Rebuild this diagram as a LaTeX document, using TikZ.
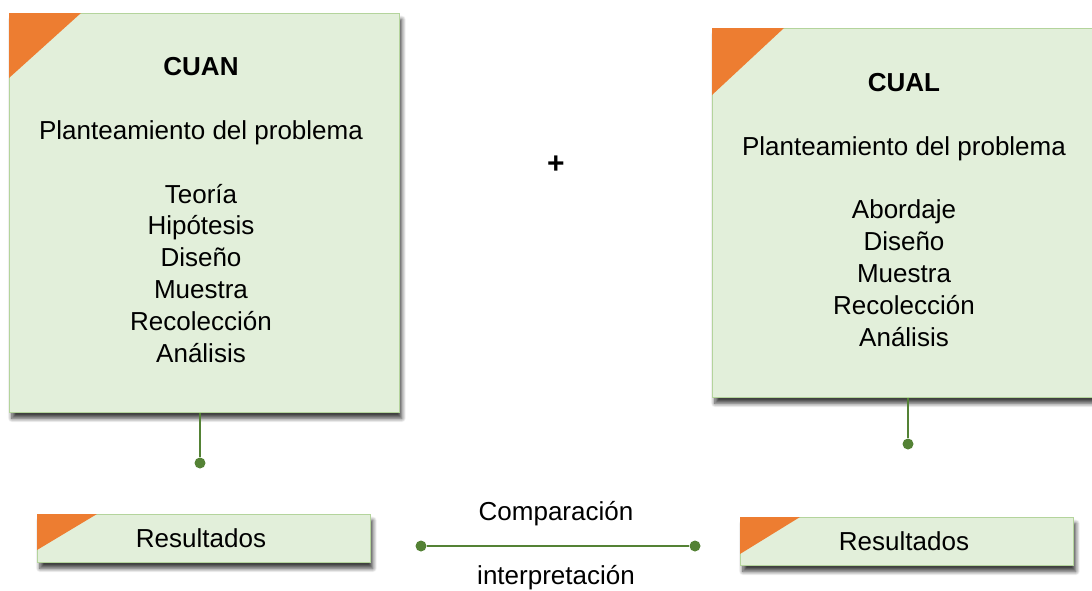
\documentclass[tikz,border=0pt]{standalone}
\usepackage{fontspec}
\setmainfont{Liberation Sans}
\usetikzlibrary{shadows.blur}
\definecolor{boxfill}{HTML}{E2EFDA}
\definecolor{boxline}{HTML}{B4D49C}
\definecolor{corner}{HTML}{ED7D31}
\definecolor{link}{HTML}{548235}
\begin{document}
\begin{tikzpicture}[x=1pt,y=-1pt,
  card/.style={draw=boxline, line width=0.8pt, fill=boxfill, rectangle, inner sep=0pt,
    blur shadow={shadow xshift=2.5pt, shadow yshift=-6pt, shadow blur radius=4pt,
      shadow blur steps=8, shadow opacity=75}},
  bodytext/.style={align=center, font=\fontsize{26}{31.8}\selectfont, inner sep=0pt},
  plaintext/.style={font=\fontsize{26}{30}\selectfont, inner sep=0pt},
  dot/.style={circle, fill=link, inner sep=0pt, minimum size=11pt},
  wire/.style={draw=link, line width=1.2pt}]
\useasboundingbox (0,0) rectangle (1092,590);

% large method boxes
\node[card, minimum width=390pt, minimum height=399pt, anchor=north west] (cuan) at (9,13) {};
\node[card, minimum width=390pt, minimum height=369pt, anchor=north west] (cual) at (712,28) {};
\fill[corner] (cuan.north west) -- ++(72,0) -- ++(-72,65) -- cycle;
\fill[corner] (cual.north west) -- ++(72,0) -- ++(-72,67) -- cycle;

% the base anchor of these nodes sits on the last line
\node[bodytext, anchor=base] (cuantext) at (201,362)
  {\textbf{CUAN}\\[31.8pt]Planteamiento del problema\\[31.8pt]Teoría\\Hipótesis\\Diseño\\Muestra\\Recolección\\Análisis};
\node[bodytext, anchor=base] (cualtext) at (904,346)
  {\textbf{CUAL}\\[31.8pt]Planteamiento del problema\\[31.8pt]Abordaje\\Diseño\\Muestra\\Recolección\\Análisis};

\node[font=\fontsize{30}{30}\selectfont\bfseries, inner sep=0pt] (plus) at (556,165) {+};

% result boxes
\node[card, minimum width=333pt, minimum height=48pt, anchor=north west] (resL) at (37,514) {};
\node[card, minimum width=333pt, minimum height=48pt, anchor=north west] (resR) at (740,517) {};
\fill[corner] (resL.north west) -- ++(60,0) -- ++(-60,36) -- cycle;
\fill[corner] (resR.north west) -- ++(60,0) -- ++(-60,37) -- cycle;
\node[plaintext] (resLt) at (201,538) {Resultados};
\node[plaintext] (resRt) at (904,541) {Resultados};

% connectors
\node[dot] (dL) at (200,463) {};
\node[dot] (dR) at (908,444) {};
\draw[wire] (cuan.south -| dL) -- (dL);
\draw[wire] (cual.south -| dR) -- (dR);

\node[dot] (cA) at (421,546) {};
\node[dot] (cB) at (695,546) {};
\draw[wire] (cA) -- (cB);
\node[plaintext] (comp) at (556,514) {Comparación};
\node[plaintext] (interp) at (556,578) {interpretación};
\end{tikzpicture}
\end{document}
